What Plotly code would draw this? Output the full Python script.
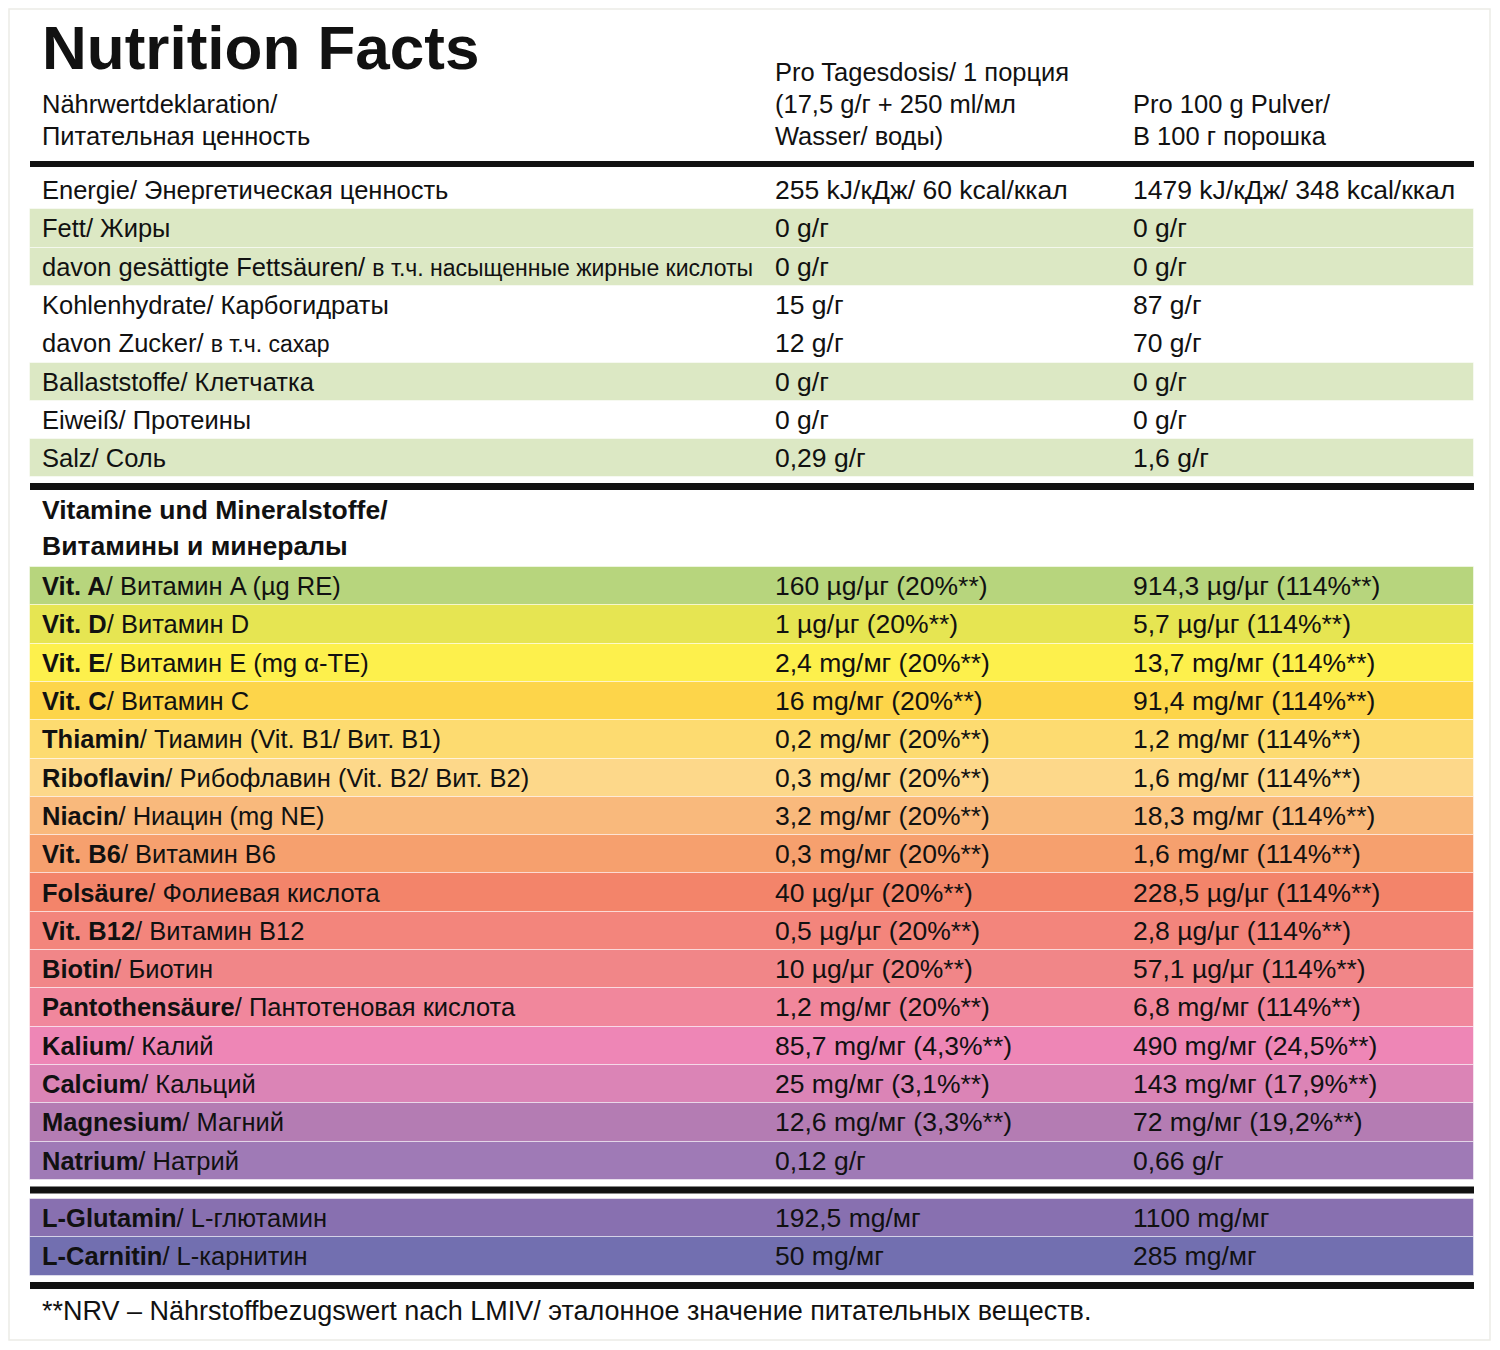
import plotly.graph_objects as go

# --- data -----------------------------------------------------------------
header_left = ["Nährwertdeklaration/", "Питательная ценность"]
header_portion = ["Pro Tagesdosis/ 1 порция", "(17,5 g/г + 250 ml/мл", "Wasser/ воды)"]
header_100g = ["Pro 100 g Pulver/", "В 100 г порошка"]

basic_labels = [
    "Energie/ Энергетическая ценность",
    "Fett/ Жиры",
    "davon gesättigte Fettsäuren/ <span style='font-size:23px'>в т.ч. насыщенные жирные кислоты</span>",
    "Kohlenhydrate/ Карбогидраты",
    "davon Zucker/ <span style='font-size:23px'>в т.ч. сахар</span>",
    "Ballaststoffe/ Клетчатка",
    "Eiweiß/ Протеины",
    "Salz/ Соль",
]
basic_portion = ["255 kJ/кДж/ 60 kcal/ккал", "0 g/г", "0 g/г", "15 g/г", "12 g/г", "0 g/г", "0 g/г", "0,29 g/г"]
basic_100g = ["1479 kJ/кДж/ 348 kcal/ккал", "0 g/г", "0 g/г", "87 g/г", "70 g/г", "0 g/г", "0 g/г", "1,6 g/г"]
basic_shaded = [False, True, True, False, False, True, False, True]

vit_heading = ["Vitamine und Mineralstoffe/", "Витамины и минералы"]
vit_names = ["Vit. A", "Vit. D", "Vit. E", "Vit. C", "Thiamin", "Riboflavin", "Niacin", "Vit. B6",
             "Folsäure", "Vit. B12", "Biotin", "Pantothensäure", "Kalium", "Calcium", "Magnesium", "Natrium"]
vit_names_ru = ["/ Витамин A (µg RE)", "/ Витамин D", "/ Витамин E (mg α-TE)", "/ Витамин C",
                "/ Тиамин (Vit. B1/ Вит. B1)", "/ Рибофлавин (Vit. B2/ Вит. B2)", "/ Ниацин (mg NE)",
                "/ Витамин B6", "/ Фолиевая кислота", "/ Витамин B12", "/ Биотин",
                "/ Пантотеновая кислота", "/ Калий", "/ Кальций", "/ Магний", "/ Натрий"]
vit_portion = ["160 µg/µг (20%**)", "1 µg/µг (20%**)", "2,4 mg/мг (20%**)", "16 mg/мг (20%**)",
               "0,2 mg/мг (20%**)", "0,3 mg/мг (20%**)", "3,2 mg/мг (20%**)", "0,3 mg/мг (20%**)",
               "40 µg/µг (20%**)", "0,5 µg/µг (20%**)", "10 µg/µг (20%**)", "1,2 mg/мг (20%**)",
               "85,7 mg/мг (4,3%**)", "25 mg/мг (3,1%**)", "12,6 mg/мг (3,3%**)", "0,12 g/г"]
vit_100g = ["914,3 µg/µг (114%**)", "5,7 µg/µг (114%**)", "13,7 mg/мг (114%**)", "91,4 mg/мг (114%**)",
            "1,2 mg/мг (114%**)", "1,6 mg/мг (114%**)", "18,3 mg/мг (114%**)", "1,6 mg/мг (114%**)",
            "228,5 µg/µг (114%**)", "2,8 µg/µг (114%**)", "57,1 µg/µг (114%**)", "6,8 mg/мг (114%**)",
            "490 mg/мг (24,5%**)", "143 mg/мг (17,9%**)", "72 mg/мг (19,2%**)", "0,66 g/г"]
vit_colors = ["#b7d57d", "#e6e552", "#fdf04c", "#fdd54a", "#fddb70", "#fdd88a", "#f9b97c", "#f6a06e",
              "#f3846a", "#f3857c", "#f18688", "#f1879c", "#ee86b6", "#db84b6", "#b47cb3", "#9f7ab6"]

amino_names = ["L-Glutamin", "L-Carnitin"]
amino_names_ru = ["/ L-глютамин", "/ L-карнитин"]
amino_portion = ["192,5 mg/мг", "50 mg/мг"]
amino_100g = ["1100 mg/мг", "285 mg/мг"]
amino_colors = ["#8870b0", "#726fb0"]

footnote = "**NRV – Nährstoffbezugswert nach LMIV/ эталонное значение питательных веществ."

# --- layout constants -------------------------------------------------------
# page body has an 8px margin, so the axes start at 8 to keep picture pixels == data units
FONT = "Liberation Sans, Arial, sans-serif"
SIZE = 25.5
VAL_SIZE = 26.5
X_LEFT, X_RIGHT = 30, 1474
X_TEXT, X_COL2, X_COL3 = 40, 773, 1131
ROW_H = 38.3
basic_top, vit_top, amino_top = 171, 567, 1199

basic_y = [basic_top + ROW_H * (i + 0.5) for i in range(len(basic_labels))]
vit_y = [vit_top + ROW_H * (i + 0.5) for i in range(len(vit_names))]
amino_y = [amino_top + ROW_H * (i + 0.5) for i in range(len(amino_names))]

fig = go.Figure()


def add_rows(ys, colors):
    fig.add_trace(go.Bar(
        y=ys, x=[X_RIGHT - X_LEFT] * len(ys), base=X_LEFT, orientation="h",
        width=ROW_H, marker=dict(color=colors, line=dict(color="rgba(255,255,255,0.5)", width=1)),
        hoverinfo="skip", showlegend=False,
    ))


add_rows([y for y, s in zip(basic_y, basic_shaded) if s], "#dce8c4")
add_rows(vit_y, vit_colors)
add_rows(amino_y, amino_colors)

annotations = []


def txt(x, y, text, size=SIZE, family=FONT):
    annotations.append(dict(x=x, y=y, xref="x", yref="y", text=text, showarrow=False,
                            xanchor="left", yanchor="middle",
                            font=dict(family=family, size=size, color="#111111")))


txt(40, 47, "<b>Nutrition Facts</b>", size=62)
for i, t in enumerate(header_left):
    txt(X_TEXT, 104 + 32 * i, t)
for i, t in enumerate(header_portion):
    txt(X_COL2, 72 + 32 * i, t)
for i, t in enumerate(header_100g):
    txt(X_COL3, 104 + 32 * i, t)

for y, a, b, c in zip(basic_y, basic_labels, basic_portion, basic_100g):
    txt(X_TEXT, y, a)
    txt(X_COL2, y, b, size=VAL_SIZE)
    txt(X_COL3, y, c, size=VAL_SIZE)

txt(X_TEXT, 510, "<b>" + vit_heading[0] + "</b>", size=26.5)
txt(X_TEXT, 546, "<b>" + vit_heading[1] + "</b>", size=26.5)

for y, n, r, b, c in zip(vit_y, vit_names, vit_names_ru, vit_portion, vit_100g):
    txt(X_TEXT, y, "<b>" + n + "</b>" + r)
    txt(X_COL2, y, b, size=VAL_SIZE)
    txt(X_COL3, y, c, size=VAL_SIZE)

for y, n, r, b, c in zip(amino_y, amino_names, amino_names_ru, amino_portion, amino_100g):
    txt(X_TEXT, y, "<b>" + n + "</b>" + r)
    txt(X_COL2, y, b, size=VAL_SIZE)
    txt(X_COL3, y, c, size=VAL_SIZE)

txt(X_TEXT, 1311, footnote, size=27)

shapes = [dict(type="rect", xref="x", yref="y", x0=9, x1=1490, y0=9, y1=1340,
               line=dict(color="#ecece6", width=1.5), fillcolor="rgba(0,0,0,0)", layer="below")]
for y, w in [(164, 6), (486.5, 7), (1190, 7), (1285.5, 7)]:
    shapes.append(dict(type="line", xref="x", yref="y", x0=X_LEFT, x1=X_RIGHT, y0=y, y1=y,
                       line=dict(color="#111111", width=w)))

fig.update_layout(
    width=1484, height=1334,
    margin=dict(l=0, r=0, t=0, b=0),
    paper_bgcolor="white", plot_bgcolor="white",
    xaxis=dict(range=[8, 1492], visible=False, fixedrange=True),
    yaxis=dict(range=[1342, 8], visible=False, fixedrange=True),
    bargap=0,
    annotations=annotations,
    shapes=shapes,
)

fig.write_html("out.html")
